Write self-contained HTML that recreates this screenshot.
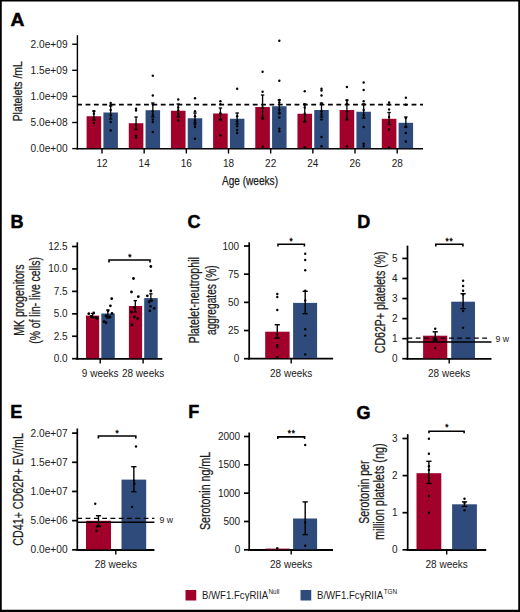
<!DOCTYPE html>
<html><head><meta charset="utf-8"><style>
html,body{margin:0;padding:0;background:#fff;width:520px;height:612px;overflow:hidden;}
svg{display:block;font-family:"Liberation Sans",sans-serif;}
</style></head><body>
<svg width="520" height="612" viewBox="0 0 520 612" font-family="Liberation Sans, sans-serif">
<rect x="0" y="0" width="520" height="612" fill="#fff"/>
<text x="10.4" y="26" font-size="18" text-anchor="start" font-weight="bold" fill="#000" textLength="13.9" lengthAdjust="spacingAndGlyphs" stroke="#000" stroke-width="0.5">A</text>
<line x1="77.4" y1="35.2" x2="77.4" y2="149.5" stroke="#000" stroke-width="1.4" />
<line x1="72.2" y1="148.6" x2="77.4" y2="148.6" stroke="#000" stroke-width="1.4" />
<text x="67.6" y="152.15" font-size="10" text-anchor="end" font-weight="normal" fill="#1a1a1a" textLength="37" lengthAdjust="spacingAndGlyphs" >0.0e+00</text>
<line x1="72.2" y1="122.5" x2="77.4" y2="122.5" stroke="#000" stroke-width="1.4" />
<text x="67.6" y="126.05" font-size="10" text-anchor="end" font-weight="normal" fill="#1a1a1a" textLength="37" lengthAdjust="spacingAndGlyphs" >5.0e+08</text>
<line x1="72.2" y1="96.39999999999999" x2="77.4" y2="96.39999999999999" stroke="#000" stroke-width="1.4" />
<text x="67.6" y="99.94999999999999" font-size="10" text-anchor="end" font-weight="normal" fill="#1a1a1a" textLength="37" lengthAdjust="spacingAndGlyphs" >1.0e+09</text>
<line x1="72.2" y1="70.29999999999998" x2="77.4" y2="70.29999999999998" stroke="#000" stroke-width="1.4" />
<text x="67.6" y="73.84999999999998" font-size="10" text-anchor="end" font-weight="normal" fill="#1a1a1a" textLength="37" lengthAdjust="spacingAndGlyphs" >1.5e+09</text>
<line x1="72.2" y1="44.19999999999999" x2="77.4" y2="44.19999999999999" stroke="#000" stroke-width="1.4" />
<text x="67.6" y="47.749999999999986" font-size="10" text-anchor="end" font-weight="normal" fill="#1a1a1a" textLength="37" lengthAdjust="spacingAndGlyphs" >2.0e+09</text>
<line x1="76.7" y1="148.8" x2="423" y2="148.8" stroke="#000" stroke-width="1.4" />
<rect x="86.6" y="116.25" width="14.6" height="31.95" fill="#A1002B"/>
<rect x="103.4" y="112.5" width="14.5" height="35.7" fill="#2E4B7B"/>
<rect x="128.77" y="123.2" width="14.6" height="25.0" fill="#A1002B"/>
<rect x="145.57000000000002" y="110.2" width="14.5" height="38.0" fill="#2E4B7B"/>
<rect x="170.94" y="110.75" width="14.6" height="37.45" fill="#A1002B"/>
<rect x="187.74" y="118.25" width="14.5" height="29.95" fill="#2E4B7B"/>
<rect x="213.10999999999999" y="113.5" width="14.6" height="34.7" fill="#A1002B"/>
<rect x="229.91" y="118.75" width="14.5" height="29.45" fill="#2E4B7B"/>
<rect x="255.28" y="107" width="14.6" height="41.2" fill="#A1002B"/>
<rect x="272.08" y="106.25" width="14.5" height="41.95" fill="#2E4B7B"/>
<rect x="297.45000000000005" y="113.75" width="14.6" height="34.45" fill="#A1002B"/>
<rect x="314.25" y="110" width="14.5" height="38.2" fill="#2E4B7B"/>
<rect x="339.62" y="110" width="14.6" height="38.2" fill="#A1002B"/>
<rect x="356.41999999999996" y="111.75" width="14.5" height="36.45" fill="#2E4B7B"/>
<rect x="381.79" y="118.8" width="14.6" height="29.4" fill="#A1002B"/>
<rect x="398.59" y="122.8" width="14.5" height="25.4" fill="#2E4B7B"/>
<circle cx="93.9" cy="111.25" r="1.2" fill="#000"/>
<circle cx="93.9" cy="113.75" r="1.2" fill="#000"/>
<circle cx="93.9" cy="117.5" r="1.2" fill="#000"/>
<circle cx="93.9" cy="123" r="1.2" fill="#000"/>
<circle cx="110.65" cy="103" r="1.2" fill="#000"/>
<circle cx="110.65" cy="105" r="1.2" fill="#000"/>
<circle cx="110.65" cy="110" r="1.2" fill="#000"/>
<circle cx="110.65" cy="115" r="1.2" fill="#000"/>
<circle cx="110.65" cy="122" r="1.2" fill="#000"/>
<circle cx="110.65" cy="130.5" r="1.2" fill="#000"/>
<line x1="93.9" y1="111" x2="93.9" y2="120" stroke="#000" stroke-width="1.3" />
<line x1="92.2" y1="111" x2="95.60000000000001" y2="111" stroke="#000" stroke-width="1.3" />
<line x1="92.2" y1="120" x2="95.60000000000001" y2="120" stroke="#000" stroke-width="1.3" />
<line x1="110.65" y1="106" x2="110.65" y2="119" stroke="#000" stroke-width="1.3" />
<line x1="108.95" y1="106" x2="112.35000000000001" y2="106" stroke="#000" stroke-width="1.3" />
<line x1="108.95" y1="119" x2="112.35000000000001" y2="119" stroke="#000" stroke-width="1.3" />
<line x1="102.0" y1="148.8" x2="102.0" y2="153.5" stroke="#000" stroke-width="1.4" />
<text x="102.0" y="166.8" font-size="10" text-anchor="middle" font-weight="normal" fill="#1a1a1a" >12</text>
<circle cx="136.07000000000002" cy="108.75" r="1.2" fill="#000"/>
<circle cx="136.07000000000002" cy="110.5" r="1.2" fill="#000"/>
<circle cx="136.07000000000002" cy="125" r="1.2" fill="#000"/>
<circle cx="136.07000000000002" cy="135.75" r="1.2" fill="#000"/>
<circle cx="136.07000000000002" cy="137.5" r="1.2" fill="#000"/>
<circle cx="152.82000000000002" cy="75.75" r="1.2" fill="#000"/>
<circle cx="152.82000000000002" cy="95.5" r="1.2" fill="#000"/>
<circle cx="152.82000000000002" cy="104.5" r="1.2" fill="#000"/>
<circle cx="152.82000000000002" cy="111.25" r="1.2" fill="#000"/>
<circle cx="152.82000000000002" cy="115" r="1.2" fill="#000"/>
<circle cx="152.82000000000002" cy="119.5" r="1.2" fill="#000"/>
<circle cx="152.82000000000002" cy="122" r="1.2" fill="#000"/>
<circle cx="152.82000000000002" cy="132" r="1.2" fill="#000"/>
<line x1="136.07000000000002" y1="117" x2="136.07000000000002" y2="129.5" stroke="#000" stroke-width="1.3" />
<line x1="134.37000000000003" y1="117" x2="137.77" y2="117" stroke="#000" stroke-width="1.3" />
<line x1="134.37000000000003" y1="129.5" x2="137.77" y2="129.5" stroke="#000" stroke-width="1.3" />
<line x1="152.82000000000002" y1="103" x2="152.82000000000002" y2="117" stroke="#000" stroke-width="1.3" />
<line x1="151.12000000000003" y1="103" x2="154.52" y2="103" stroke="#000" stroke-width="1.3" />
<line x1="151.12000000000003" y1="117" x2="154.52" y2="117" stroke="#000" stroke-width="1.3" />
<line x1="144.17000000000002" y1="148.8" x2="144.17000000000002" y2="153.5" stroke="#000" stroke-width="1.4" />
<text x="144.17000000000002" y="166.8" font-size="10" text-anchor="middle" font-weight="normal" fill="#1a1a1a" >14</text>
<circle cx="178.24" cy="99.5" r="1.2" fill="#000"/>
<circle cx="178.24" cy="107.5" r="1.2" fill="#000"/>
<circle cx="178.24" cy="110.5" r="1.2" fill="#000"/>
<circle cx="178.24" cy="113.75" r="1.2" fill="#000"/>
<circle cx="178.24" cy="115" r="1.2" fill="#000"/>
<circle cx="178.24" cy="120.5" r="1.2" fill="#000"/>
<circle cx="194.99" cy="98.25" r="1.2" fill="#000"/>
<circle cx="194.99" cy="111.25" r="1.2" fill="#000"/>
<circle cx="194.99" cy="116.25" r="1.2" fill="#000"/>
<circle cx="194.99" cy="120.5" r="1.2" fill="#000"/>
<circle cx="194.99" cy="124.5" r="1.2" fill="#000"/>
<circle cx="194.99" cy="127" r="1.2" fill="#000"/>
<circle cx="194.99" cy="138.75" r="1.2" fill="#000"/>
<line x1="178.24" y1="104" x2="178.24" y2="117" stroke="#000" stroke-width="1.3" />
<line x1="176.54000000000002" y1="104" x2="179.94" y2="104" stroke="#000" stroke-width="1.3" />
<line x1="176.54000000000002" y1="117" x2="179.94" y2="117" stroke="#000" stroke-width="1.3" />
<line x1="194.99" y1="113" x2="194.99" y2="123" stroke="#000" stroke-width="1.3" />
<line x1="193.29000000000002" y1="113" x2="196.69" y2="113" stroke="#000" stroke-width="1.3" />
<line x1="193.29000000000002" y1="123" x2="196.69" y2="123" stroke="#000" stroke-width="1.3" />
<line x1="186.34" y1="148.8" x2="186.34" y2="153.5" stroke="#000" stroke-width="1.4" />
<text x="186.34" y="166.8" font-size="10" text-anchor="middle" font-weight="normal" fill="#1a1a1a" >16</text>
<circle cx="220.41" cy="101.25" r="1.2" fill="#000"/>
<circle cx="220.41" cy="104.25" r="1.2" fill="#000"/>
<circle cx="220.41" cy="113.25" r="1.2" fill="#000"/>
<circle cx="220.41" cy="119.5" r="1.2" fill="#000"/>
<circle cx="220.41" cy="135.5" r="1.2" fill="#000"/>
<circle cx="237.16" cy="88.75" r="1.2" fill="#000"/>
<circle cx="237.16" cy="116.25" r="1.2" fill="#000"/>
<circle cx="237.16" cy="121.25" r="1.2" fill="#000"/>
<circle cx="237.16" cy="126.25" r="1.2" fill="#000"/>
<circle cx="237.16" cy="130" r="1.2" fill="#000"/>
<circle cx="237.16" cy="133" r="1.2" fill="#000"/>
<line x1="220.41" y1="108" x2="220.41" y2="120" stroke="#000" stroke-width="1.3" />
<line x1="218.71" y1="108" x2="222.10999999999999" y2="108" stroke="#000" stroke-width="1.3" />
<line x1="218.71" y1="120" x2="222.10999999999999" y2="120" stroke="#000" stroke-width="1.3" />
<line x1="237.16" y1="113" x2="237.16" y2="124" stroke="#000" stroke-width="1.3" />
<line x1="235.46" y1="113" x2="238.85999999999999" y2="113" stroke="#000" stroke-width="1.3" />
<line x1="235.46" y1="124" x2="238.85999999999999" y2="124" stroke="#000" stroke-width="1.3" />
<line x1="228.51" y1="148.8" x2="228.51" y2="153.5" stroke="#000" stroke-width="1.4" />
<text x="228.51" y="166.8" font-size="10" text-anchor="middle" font-weight="normal" fill="#1a1a1a" >18</text>
<circle cx="262.58" cy="71.75" r="1.2" fill="#000"/>
<circle cx="262.58" cy="91.75" r="1.2" fill="#000"/>
<circle cx="262.58" cy="107.5" r="1.2" fill="#000"/>
<circle cx="262.58" cy="118.75" r="1.2" fill="#000"/>
<circle cx="262.58" cy="146.75" r="1.2" fill="#000"/>
<circle cx="279.33" cy="40.75" r="1.2" fill="#000"/>
<circle cx="279.33" cy="80.75" r="1.2" fill="#000"/>
<circle cx="279.33" cy="100" r="1.2" fill="#000"/>
<circle cx="279.33" cy="102.5" r="1.2" fill="#000"/>
<circle cx="279.33" cy="110" r="1.2" fill="#000"/>
<circle cx="279.33" cy="113.75" r="1.2" fill="#000"/>
<circle cx="279.33" cy="117.5" r="1.2" fill="#000"/>
<circle cx="279.33" cy="128.75" r="1.2" fill="#000"/>
<circle cx="279.33" cy="131.25" r="1.2" fill="#000"/>
<line x1="262.58" y1="95" x2="262.58" y2="118" stroke="#000" stroke-width="1.3" />
<line x1="260.88" y1="95" x2="264.28" y2="95" stroke="#000" stroke-width="1.3" />
<line x1="260.88" y1="118" x2="264.28" y2="118" stroke="#000" stroke-width="1.3" />
<line x1="279.33" y1="100" x2="279.33" y2="113" stroke="#000" stroke-width="1.3" />
<line x1="277.63" y1="100" x2="281.03" y2="100" stroke="#000" stroke-width="1.3" />
<line x1="277.63" y1="113" x2="281.03" y2="113" stroke="#000" stroke-width="1.3" />
<line x1="270.68" y1="148.8" x2="270.68" y2="153.5" stroke="#000" stroke-width="1.4" />
<text x="270.68" y="166.8" font-size="10" text-anchor="middle" font-weight="normal" fill="#1a1a1a" >22</text>
<circle cx="304.75" cy="91.25" r="1.2" fill="#000"/>
<circle cx="304.75" cy="104.5" r="1.2" fill="#000"/>
<circle cx="304.75" cy="107.5" r="1.2" fill="#000"/>
<circle cx="304.75" cy="113.75" r="1.2" fill="#000"/>
<circle cx="304.75" cy="121.25" r="1.2" fill="#000"/>
<circle cx="304.75" cy="147.5" r="1.2" fill="#000"/>
<circle cx="321.5" cy="88.75" r="1.2" fill="#000"/>
<circle cx="321.5" cy="90.5" r="1.2" fill="#000"/>
<circle cx="321.5" cy="95.5" r="1.2" fill="#000"/>
<circle cx="321.5" cy="103.75" r="1.2" fill="#000"/>
<circle cx="321.5" cy="111.25" r="1.2" fill="#000"/>
<circle cx="321.5" cy="114.5" r="1.2" fill="#000"/>
<circle cx="321.5" cy="119.5" r="1.2" fill="#000"/>
<circle cx="321.5" cy="137" r="1.2" fill="#000"/>
<circle cx="321.5" cy="146.25" r="1.2" fill="#000"/>
<line x1="304.75" y1="104" x2="304.75" y2="122" stroke="#000" stroke-width="1.3" />
<line x1="303.05" y1="104" x2="306.45" y2="104" stroke="#000" stroke-width="1.3" />
<line x1="303.05" y1="122" x2="306.45" y2="122" stroke="#000" stroke-width="1.3" />
<line x1="321.5" y1="103" x2="321.5" y2="117" stroke="#000" stroke-width="1.3" />
<line x1="319.8" y1="103" x2="323.2" y2="103" stroke="#000" stroke-width="1.3" />
<line x1="319.8" y1="117" x2="323.2" y2="117" stroke="#000" stroke-width="1.3" />
<line x1="312.85" y1="148.8" x2="312.85" y2="153.5" stroke="#000" stroke-width="1.4" />
<text x="312.85" y="166.8" font-size="10" text-anchor="middle" font-weight="normal" fill="#1a1a1a" >24</text>
<circle cx="346.91999999999996" cy="87" r="1.2" fill="#000"/>
<circle cx="346.91999999999996" cy="100.5" r="1.2" fill="#000"/>
<circle cx="346.91999999999996" cy="103.75" r="1.2" fill="#000"/>
<circle cx="346.91999999999996" cy="111.25" r="1.2" fill="#000"/>
<circle cx="346.91999999999996" cy="118.75" r="1.2" fill="#000"/>
<circle cx="346.91999999999996" cy="146.25" r="1.2" fill="#000"/>
<circle cx="363.66999999999996" cy="82.5" r="1.2" fill="#000"/>
<circle cx="363.66999999999996" cy="90" r="1.2" fill="#000"/>
<circle cx="363.66999999999996" cy="101.25" r="1.2" fill="#000"/>
<circle cx="363.66999999999996" cy="104.5" r="1.2" fill="#000"/>
<circle cx="363.66999999999996" cy="110" r="1.2" fill="#000"/>
<circle cx="363.66999999999996" cy="115" r="1.2" fill="#000"/>
<circle cx="363.66999999999996" cy="127" r="1.2" fill="#000"/>
<circle cx="363.66999999999996" cy="143.75" r="1.2" fill="#000"/>
<circle cx="363.66999999999996" cy="146.25" r="1.2" fill="#000"/>
<line x1="346.91999999999996" y1="100" x2="346.91999999999996" y2="120" stroke="#000" stroke-width="1.3" />
<line x1="345.21999999999997" y1="100" x2="348.61999999999995" y2="100" stroke="#000" stroke-width="1.3" />
<line x1="345.21999999999997" y1="120" x2="348.61999999999995" y2="120" stroke="#000" stroke-width="1.3" />
<line x1="363.66999999999996" y1="104" x2="363.66999999999996" y2="118" stroke="#000" stroke-width="1.3" />
<line x1="361.96999999999997" y1="104" x2="365.36999999999995" y2="104" stroke="#000" stroke-width="1.3" />
<line x1="361.96999999999997" y1="118" x2="365.36999999999995" y2="118" stroke="#000" stroke-width="1.3" />
<line x1="355.02" y1="148.8" x2="355.02" y2="153.5" stroke="#000" stroke-width="1.4" />
<text x="355.02" y="166.8" font-size="10" text-anchor="middle" font-weight="normal" fill="#1a1a1a" >26</text>
<circle cx="389.09" cy="102.5" r="1.2" fill="#000"/>
<circle cx="389.09" cy="104.5" r="1.2" fill="#000"/>
<circle cx="389.09" cy="109.5" r="1.2" fill="#000"/>
<circle cx="389.09" cy="117" r="1.2" fill="#000"/>
<circle cx="389.09" cy="129.5" r="1.2" fill="#000"/>
<circle cx="389.09" cy="147.5" r="1.2" fill="#000"/>
<circle cx="405.84" cy="97.8" r="1.2" fill="#000"/>
<circle cx="405.84" cy="104.8" r="1.2" fill="#000"/>
<circle cx="405.84" cy="118" r="1.2" fill="#000"/>
<circle cx="405.84" cy="127" r="1.2" fill="#000"/>
<circle cx="405.84" cy="133" r="1.2" fill="#000"/>
<circle cx="405.84" cy="141.5" r="1.2" fill="#000"/>
<line x1="389.09" y1="112.5" x2="389.09" y2="124.5" stroke="#000" stroke-width="1.3" />
<line x1="387.39" y1="112.5" x2="390.78999999999996" y2="112.5" stroke="#000" stroke-width="1.3" />
<line x1="387.39" y1="124.5" x2="390.78999999999996" y2="124.5" stroke="#000" stroke-width="1.3" />
<line x1="405.84" y1="117" x2="405.84" y2="127" stroke="#000" stroke-width="1.3" />
<line x1="404.14" y1="117" x2="407.53999999999996" y2="117" stroke="#000" stroke-width="1.3" />
<line x1="404.14" y1="127" x2="407.53999999999996" y2="127" stroke="#000" stroke-width="1.3" />
<line x1="397.19" y1="148.8" x2="397.19" y2="153.5" stroke="#000" stroke-width="1.4" />
<text x="397.19" y="166.8" font-size="10" text-anchor="middle" font-weight="normal" fill="#1a1a1a" >28</text>
<line x1="77.2" y1="104.6" x2="423" y2="104.6" stroke="#000" stroke-width="1.6" stroke-dasharray="4.8 3.56"/>
<text x="222" y="185.2" font-size="13.2" text-anchor="start" font-weight="normal" fill="#1a1a1a" textLength="56" lengthAdjust="spacingAndGlyphs" stroke="#1a1a1a" stroke-width="0.25">Age (weeks)</text>
<text transform="translate(21.9,121.3) rotate(-90)" font-size="13.4" text-anchor="start" font-weight="normal" fill="#1a1a1a" textLength="60" lengthAdjust="spacingAndGlyphs" stroke="#1a1a1a" stroke-width="0.25">Platelets /mL</text>
<text x="10.4" y="227.7" font-size="18" text-anchor="start" font-weight="bold" fill="#000" stroke="#000" stroke-width="0.5">B</text>
<line x1="77.3" y1="242.3" x2="77.3" y2="359.65000000000003" stroke="#000" stroke-width="1.7" />
<line x1="72.1" y1="358.7" x2="77.3" y2="358.7" stroke="#000" stroke-width="1.7" />
<text x="67.7" y="362.25" font-size="10" text-anchor="end" font-weight="normal" fill="#1a1a1a" >0.0</text>
<line x1="72.1" y1="336.26" x2="77.3" y2="336.26" stroke="#000" stroke-width="1.7" />
<text x="67.7" y="339.81" font-size="10" text-anchor="end" font-weight="normal" fill="#1a1a1a" >2.5</text>
<line x1="72.1" y1="313.82" x2="77.3" y2="313.82" stroke="#000" stroke-width="1.7" />
<text x="67.7" y="317.37" font-size="10" text-anchor="end" font-weight="normal" fill="#1a1a1a" >5.0</text>
<line x1="72.1" y1="291.38" x2="77.3" y2="291.38" stroke="#000" stroke-width="1.7" />
<text x="67.7" y="294.93" font-size="10" text-anchor="end" font-weight="normal" fill="#1a1a1a" >7.5</text>
<line x1="72.1" y1="268.94" x2="77.3" y2="268.94" stroke="#000" stroke-width="1.7" />
<text x="67.7" y="272.49" font-size="10" text-anchor="end" font-weight="normal" fill="#1a1a1a" >10.0</text>
<line x1="72.1" y1="246.49999999999997" x2="77.3" y2="246.49999999999997" stroke="#000" stroke-width="1.7" />
<text x="67.7" y="250.04999999999998" font-size="10" text-anchor="end" font-weight="normal" fill="#1a1a1a" >12.5</text>
<line x1="76.45" y1="358.8" x2="162.3" y2="358.8" stroke="#000" stroke-width="1.8" />
<rect x="86.0" y="315.6" width="13.2" height="42.6" fill="#A1002B"/>
<rect x="101.3" y="313.5" width="13.5" height="44.7" fill="#2E4B7B"/>
<line x1="100.2" y1="358.8" x2="100.2" y2="363.6" stroke="#000" stroke-width="1.4" />
<text x="100.2" y="377.1" font-size="10" text-anchor="middle" font-weight="normal" fill="#1a1a1a" >9 weeks</text>
<rect x="128.9" y="306" width="13.2" height="52.2" fill="#A1002B"/>
<rect x="144.2" y="298.1" width="13.5" height="60.1" fill="#2E4B7B"/>
<line x1="143.1" y1="358.8" x2="143.1" y2="363.6" stroke="#000" stroke-width="1.4" />
<text x="143.1" y="377.1" font-size="10" text-anchor="middle" font-weight="normal" fill="#1a1a1a" >28 weeks</text>
<circle cx="88.8" cy="313.7" r="1.4" fill="#000"/>
<circle cx="93.7" cy="313" r="1.4" fill="#000"/>
<circle cx="91.2" cy="316.5" r="1.4" fill="#000"/>
<circle cx="96" cy="317.5" r="1.4" fill="#000"/>
<circle cx="97" cy="318.3" r="1.4" fill="#000"/>
<circle cx="111.7" cy="298.7" r="1.4" fill="#000"/>
<circle cx="110.4" cy="305.8" r="1.4" fill="#000"/>
<circle cx="108" cy="310.8" r="1.4" fill="#000"/>
<circle cx="112" cy="313.5" r="1.4" fill="#000"/>
<circle cx="106" cy="316" r="1.4" fill="#000"/>
<circle cx="110" cy="317" r="1.4" fill="#000"/>
<circle cx="104" cy="321.7" r="1.4" fill="#000"/>
<circle cx="106" cy="322.7" r="1.4" fill="#000"/>
<circle cx="133.5" cy="278.5" r="1.4" fill="#000"/>
<circle cx="131.5" cy="292" r="1.4" fill="#000"/>
<circle cx="138.3" cy="296.7" r="1.4" fill="#000"/>
<circle cx="134.4" cy="307.3" r="1.4" fill="#000"/>
<circle cx="131.5" cy="312" r="1.4" fill="#000"/>
<circle cx="134.4" cy="317" r="1.4" fill="#000"/>
<circle cx="137.7" cy="318.5" r="1.4" fill="#000"/>
<circle cx="131.9" cy="325" r="1.4" fill="#000"/>
<circle cx="150.8" cy="266.5" r="1.4" fill="#000"/>
<circle cx="150.8" cy="291" r="1.4" fill="#000"/>
<circle cx="147.3" cy="295.8" r="1.4" fill="#000"/>
<circle cx="151.7" cy="300.6" r="1.4" fill="#000"/>
<circle cx="149.2" cy="302" r="1.4" fill="#000"/>
<circle cx="150.4" cy="306.3" r="1.4" fill="#000"/>
<circle cx="154.2" cy="308.3" r="1.4" fill="#000"/>
<circle cx="149.8" cy="310.8" r="1.4" fill="#000"/>
<line x1="92.6" y1="313.5" x2="92.6" y2="317.5" stroke="#000" stroke-width="1.3" />
<line x1="90.89999999999999" y1="313.5" x2="94.3" y2="313.5" stroke="#000" stroke-width="1.3" />
<line x1="90.89999999999999" y1="317.5" x2="94.3" y2="317.5" stroke="#000" stroke-width="1.3" />
<line x1="107.85" y1="310" x2="107.85" y2="318" stroke="#000" stroke-width="1.3" />
<line x1="106.14999999999999" y1="310" x2="109.55" y2="310" stroke="#000" stroke-width="1.3" />
<line x1="106.14999999999999" y1="318" x2="109.55" y2="318" stroke="#000" stroke-width="1.3" />
<line x1="135.3" y1="300.6" x2="135.3" y2="312" stroke="#000" stroke-width="1.3" />
<line x1="133.60000000000002" y1="300.6" x2="137.0" y2="300.6" stroke="#000" stroke-width="1.3" />
<line x1="133.60000000000002" y1="312" x2="137.0" y2="312" stroke="#000" stroke-width="1.3" />
<line x1="150.85" y1="293.8" x2="150.85" y2="300.6" stroke="#000" stroke-width="1.3" />
<line x1="149.15" y1="293.8" x2="152.54999999999998" y2="293.8" stroke="#000" stroke-width="1.3" />
<line x1="149.15" y1="300.6" x2="152.54999999999998" y2="300.6" stroke="#000" stroke-width="1.3" />
<path d="M109.0,262.5 L109.0,260 L150.0,260 L150.0,262.5" fill="none" stroke="#000" stroke-width="1.6"/>
<text x="129.8" y="260.0" font-size="8.2" text-anchor="middle" font-weight="normal" fill="#000" stroke="#000" stroke-width="0.35">*</text>
<text transform="translate(24,335.8) rotate(-90)" font-size="14" text-anchor="start" font-weight="normal" fill="#1a1a1a" textLength="71.3" lengthAdjust="spacingAndGlyphs" stroke="#1a1a1a" stroke-width="0.25">MK progenitors</text>
<text transform="translate(40,343.8) rotate(-90)" font-size="14" text-anchor="start" font-weight="normal" fill="#1a1a1a" textLength="86.7" lengthAdjust="spacingAndGlyphs" stroke="#1a1a1a" stroke-width="0.25">(% of lin- live cells)</text>
<text x="187.6" y="228.3" font-size="18" text-anchor="start" font-weight="bold" fill="#000" stroke="#000" stroke-width="0.5">C</text>
<line x1="249.2" y1="242.3" x2="249.2" y2="359.55" stroke="#000" stroke-width="1.7" />
<line x1="244.0" y1="358.7" x2="249.2" y2="358.7" stroke="#000" stroke-width="1.7" />
<text x="239.2" y="362.25" font-size="10" text-anchor="end" font-weight="normal" fill="#1a1a1a" >0</text>
<line x1="244.0" y1="330.53" x2="249.2" y2="330.53" stroke="#000" stroke-width="1.7" />
<text x="239.2" y="334.08" font-size="10" text-anchor="end" font-weight="normal" fill="#1a1a1a" >25</text>
<line x1="244.0" y1="302.36" x2="249.2" y2="302.36" stroke="#000" stroke-width="1.7" />
<text x="239.2" y="305.91" font-size="10" text-anchor="end" font-weight="normal" fill="#1a1a1a" >50</text>
<line x1="244.0" y1="274.19" x2="249.2" y2="274.19" stroke="#000" stroke-width="1.7" />
<text x="239.2" y="277.74" font-size="10" text-anchor="end" font-weight="normal" fill="#1a1a1a" >75</text>
<line x1="244.0" y1="246.01999999999998" x2="249.2" y2="246.01999999999998" stroke="#000" stroke-width="1.7" />
<text x="239.2" y="249.57" font-size="10" text-anchor="end" font-weight="normal" fill="#1a1a1a" >100</text>
<line x1="248.35" y1="358.7" x2="333.1" y2="358.7" stroke="#000" stroke-width="1.8" />
<rect x="265.2" y="331.7" width="24.4" height="26.4" fill="#A1002B"/>
<rect x="293.1" y="302.9" width="24.0" height="55.2" fill="#2E4B7B"/>
<line x1="291.2" y1="358.7" x2="291.2" y2="363.5" stroke="#000" stroke-width="1.4" />
<text x="291.2" y="376.9" font-size="10" text-anchor="middle" font-weight="normal" fill="#1a1a1a" >28 weeks</text>
<circle cx="277.3" cy="294" r="1.2" fill="#000"/>
<circle cx="277.3" cy="297" r="1.2" fill="#000"/>
<circle cx="277.3" cy="310" r="1.2" fill="#000"/>
<circle cx="277.3" cy="345.2" r="1.2" fill="#000"/>
<circle cx="277.3" cy="347.1" r="1.2" fill="#000"/>
<circle cx="277.3" cy="357.3" r="1.2" fill="#000"/>
<circle cx="305.2" cy="253.8" r="1.2" fill="#000"/>
<circle cx="305.2" cy="260" r="1.2" fill="#000"/>
<circle cx="305.2" cy="270.2" r="1.2" fill="#000"/>
<circle cx="305.2" cy="290.8" r="1.2" fill="#000"/>
<circle cx="305.2" cy="300.4" r="1.2" fill="#000"/>
<circle cx="305.2" cy="329.2" r="1.2" fill="#000"/>
<circle cx="305.2" cy="335.6" r="1.2" fill="#000"/>
<circle cx="305.2" cy="354.4" r="1.2" fill="#000"/>
<line x1="277.3" y1="324.7" x2="277.3" y2="338.1" stroke="#000" stroke-width="1.4" />
<line x1="274.7" y1="324.7" x2="279.90000000000003" y2="324.7" stroke="#000" stroke-width="1.4" />
<line x1="274.7" y1="338.1" x2="279.90000000000003" y2="338.1" stroke="#000" stroke-width="1.4" />
<line x1="305.2" y1="291.3" x2="305.2" y2="313.7" stroke="#000" stroke-width="1.4" />
<line x1="302.59999999999997" y1="291.3" x2="307.8" y2="291.3" stroke="#000" stroke-width="1.4" />
<line x1="302.59999999999997" y1="313.7" x2="307.8" y2="313.7" stroke="#000" stroke-width="1.4" />
<path d="M278.0,246.5 L278.0,244.2 L304.4,244.2 L304.4,246.5" fill="none" stroke="#000" stroke-width="1.6"/>
<text x="291.2" y="243.9" font-size="8.2" text-anchor="middle" font-weight="normal" fill="#000" stroke="#000" stroke-width="0.35">*</text>
<text transform="translate(198.9,343.5) rotate(-90)" font-size="14" text-anchor="start" font-weight="normal" fill="#1a1a1a" textLength="86.4" lengthAdjust="spacingAndGlyphs" stroke="#1a1a1a" stroke-width="0.25">Platelet-neutrophil</text>
<text transform="translate(215.6,335) rotate(-90)" font-size="14" text-anchor="start" font-weight="normal" fill="#1a1a1a" textLength="69.6" lengthAdjust="spacingAndGlyphs" stroke="#1a1a1a" stroke-width="0.25">aggregates (%)</text>
<text x="357.2" y="228.3" font-size="18" text-anchor="start" font-weight="bold" fill="#000" stroke="#000" stroke-width="0.5">D</text>
<line x1="407.5" y1="245.6" x2="407.5" y2="359.65000000000003" stroke="#000" stroke-width="1.7" />
<line x1="402.3" y1="358.7" x2="407.5" y2="358.7" stroke="#000" stroke-width="1.7" />
<text x="397.5" y="362.25" font-size="10" text-anchor="end" font-weight="normal" fill="#1a1a1a" >0</text>
<line x1="402.3" y1="338.65" x2="407.5" y2="338.65" stroke="#000" stroke-width="1.7" />
<text x="397.5" y="342.2" font-size="10" text-anchor="end" font-weight="normal" fill="#1a1a1a" >1</text>
<line x1="402.3" y1="318.59999999999997" x2="407.5" y2="318.59999999999997" stroke="#000" stroke-width="1.7" />
<text x="397.5" y="322.15" font-size="10" text-anchor="end" font-weight="normal" fill="#1a1a1a" >2</text>
<line x1="402.3" y1="298.54999999999995" x2="407.5" y2="298.54999999999995" stroke="#000" stroke-width="1.7" />
<text x="397.5" y="302.09999999999997" font-size="10" text-anchor="end" font-weight="normal" fill="#1a1a1a" >3</text>
<line x1="402.3" y1="278.5" x2="407.5" y2="278.5" stroke="#000" stroke-width="1.7" />
<text x="397.5" y="282.05" font-size="10" text-anchor="end" font-weight="normal" fill="#1a1a1a" >4</text>
<line x1="402.3" y1="258.45" x2="407.5" y2="258.45" stroke="#000" stroke-width="1.7" />
<text x="397.5" y="262.0" font-size="10" text-anchor="end" font-weight="normal" fill="#1a1a1a" >5</text>
<line x1="406.65" y1="358.9" x2="491.5" y2="358.9" stroke="#000" stroke-width="1.8" />
<rect x="423.1" y="335.7" width="24.2" height="22.6" fill="#A1002B"/>
<rect x="451.2" y="301.7" width="23.8" height="56.6" fill="#2E4B7B"/>
<line x1="449.2" y1="358.9" x2="449.2" y2="363.5" stroke="#000" stroke-width="1.4" />
<text x="449.2" y="376.5" font-size="10" text-anchor="middle" font-weight="normal" fill="#1a1a1a" >28 weeks</text>
<circle cx="435.2" cy="328.8" r="1.2" fill="#000"/>
<circle cx="435.2" cy="338.8" r="1.2" fill="#000"/>
<circle cx="435.2" cy="348.1" r="1.2" fill="#000"/>
<circle cx="463.1" cy="280.8" r="1.2" fill="#000"/>
<circle cx="463.1" cy="286" r="1.2" fill="#000"/>
<circle cx="463.1" cy="290.8" r="1.2" fill="#000"/>
<circle cx="463.1" cy="294.6" r="1.2" fill="#000"/>
<circle cx="463.1" cy="311" r="1.2" fill="#000"/>
<circle cx="463.1" cy="327.7" r="1.2" fill="#000"/>
<line x1="435.2" y1="331.8" x2="435.2" y2="340.2" stroke="#000" stroke-width="1.4" />
<line x1="432.59999999999997" y1="331.8" x2="437.8" y2="331.8" stroke="#000" stroke-width="1.4" />
<line x1="432.59999999999997" y1="340.2" x2="437.8" y2="340.2" stroke="#000" stroke-width="1.4" />
<line x1="463.1" y1="293.7" x2="463.1" y2="308.7" stroke="#000" stroke-width="1.4" />
<line x1="460.5" y1="293.7" x2="465.70000000000005" y2="293.7" stroke="#000" stroke-width="1.4" />
<line x1="460.5" y1="308.7" x2="465.70000000000005" y2="308.7" stroke="#000" stroke-width="1.4" />
<line x1="407.5" y1="338.1" x2="489" y2="338.1" stroke="#000" stroke-width="1.4" stroke-dasharray="4.8 3.5"/>
<line x1="407.5" y1="341.9" x2="491.5" y2="341.9" stroke="#000" stroke-width="1.5" />
<text x="495.5" y="342.2" font-size="8.5" text-anchor="start" font-weight="normal" fill="#1a1a1a" textLength="13.6" lengthAdjust="spacingAndGlyphs" >9 w</text>
<path d="M435.8,246.5 L435.8,244.2 L462.9,244.2 L462.9,246.5" fill="none" stroke="#000" stroke-width="1.6"/>
<text x="447.15" y="243.9" font-size="8.2" text-anchor="middle" font-weight="normal" fill="#000" stroke="#000" stroke-width="0.35">*</text>
<text x="451.15" y="243.9" font-size="8.2" text-anchor="middle" font-weight="normal" fill="#000" stroke="#000" stroke-width="0.35">*</text>
<text transform="translate(384.5,353.2) rotate(-90)" font-size="14.8" text-anchor="start" font-weight="normal" fill="#1a1a1a" textLength="101.8" lengthAdjust="spacingAndGlyphs" stroke="#1a1a1a" stroke-width="0.25">CD62P+ platelets (%)</text>
<text x="10.2" y="418.3" font-size="18" text-anchor="start" font-weight="bold" fill="#000" stroke="#000" stroke-width="0.5">E</text>
<line x1="77.3" y1="428.5" x2="77.3" y2="550.85" stroke="#000" stroke-width="1.7" />
<line x1="72.1" y1="549.8" x2="77.3" y2="549.8" stroke="#000" stroke-width="1.7" />
<text x="67.6" y="553.3499999999999" font-size="10" text-anchor="end" font-weight="normal" fill="#1a1a1a" textLength="37" lengthAdjust="spacingAndGlyphs" >0.0e+00</text>
<line x1="72.1" y1="520.63" x2="77.3" y2="520.63" stroke="#000" stroke-width="1.7" />
<text x="67.6" y="524.18" font-size="10" text-anchor="end" font-weight="normal" fill="#1a1a1a" textLength="37" lengthAdjust="spacingAndGlyphs" >5.0e+06</text>
<line x1="72.1" y1="491.46" x2="77.3" y2="491.46" stroke="#000" stroke-width="1.7" />
<text x="67.6" y="495.01" font-size="10" text-anchor="end" font-weight="normal" fill="#1a1a1a" textLength="37" lengthAdjust="spacingAndGlyphs" >1.0e+07</text>
<line x1="72.1" y1="462.28999999999996" x2="77.3" y2="462.28999999999996" stroke="#000" stroke-width="1.7" />
<text x="67.6" y="465.84" font-size="10" text-anchor="end" font-weight="normal" fill="#1a1a1a" textLength="37" lengthAdjust="spacingAndGlyphs" >1.5e+07</text>
<line x1="72.1" y1="433.11999999999995" x2="77.3" y2="433.11999999999995" stroke="#000" stroke-width="1.7" />
<text x="67.6" y="436.66999999999996" font-size="10" text-anchor="end" font-weight="normal" fill="#1a1a1a" textLength="37" lengthAdjust="spacingAndGlyphs" >2.0e+07</text>
<line x1="76.45" y1="550" x2="154.4" y2="550" stroke="#000" stroke-width="1.8" />
<rect x="86" y="520.8" width="25" height="28.6" fill="#A1002B"/>
<rect x="121.5" y="479.6" width="24.7" height="69.8" fill="#2E4B7B"/>
<line x1="115.8" y1="550" x2="115.8" y2="554.4" stroke="#000" stroke-width="1.4" />
<text x="115.8" y="567.9" font-size="10" text-anchor="middle" font-weight="normal" fill="#1a1a1a" >28 weeks</text>
<circle cx="95.2" cy="503.8" r="1.2" fill="#000"/>
<circle cx="98.5" cy="525.6" r="1.2" fill="#000"/>
<circle cx="97" cy="526.5" r="1.2" fill="#000"/>
<circle cx="96.5" cy="530.8" r="1.2" fill="#000"/>
<circle cx="136" cy="446.5" r="1.2" fill="#000"/>
<circle cx="134" cy="480.6" r="1.2" fill="#000"/>
<circle cx="134.5" cy="483.8" r="1.2" fill="#000"/>
<circle cx="132.1" cy="506.9" r="1.2" fill="#000"/>
<line x1="98.5" y1="515.7" x2="98.5" y2="526.5" stroke="#000" stroke-width="1.4" />
<line x1="95.9" y1="515.7" x2="101.1" y2="515.7" stroke="#000" stroke-width="1.4" />
<line x1="95.9" y1="526.5" x2="101.1" y2="526.5" stroke="#000" stroke-width="1.4" />
<line x1="133.85" y1="466.7" x2="133.85" y2="491.7" stroke="#000" stroke-width="1.4" />
<line x1="131.25" y1="466.7" x2="136.45" y2="466.7" stroke="#000" stroke-width="1.4" />
<line x1="131.25" y1="491.7" x2="136.45" y2="491.7" stroke="#000" stroke-width="1.4" />
<line x1="77.3" y1="518.4" x2="154.4" y2="518.4" stroke="#000" stroke-width="1.4" stroke-dasharray="4.8 3.5"/>
<line x1="77.3" y1="522.3" x2="154.4" y2="522.3" stroke="#000" stroke-width="1.5" />
<text x="159.4" y="522.8" font-size="8.5" text-anchor="start" font-weight="normal" fill="#1a1a1a" textLength="13.6" lengthAdjust="spacingAndGlyphs" >9 w</text>
<path d="M98.39999999999999,438.6 L98.39999999999999,436 L135.79999999999998,436 L135.79999999999998,438.6" fill="none" stroke="#000" stroke-width="1.6"/>
<text x="117.0" y="435.7" font-size="8.2" text-anchor="middle" font-weight="normal" fill="#000" stroke="#000" stroke-width="0.35">*</text>
<text transform="translate(22.5,545.8) rotate(-90)" font-size="14" text-anchor="start" font-weight="normal" fill="#1a1a1a" textLength="112.7" lengthAdjust="spacingAndGlyphs" stroke="#1a1a1a" stroke-width="0.25">CD41+ CD62P+ EV/mL</text>
<text x="188.2" y="418.3" font-size="18" text-anchor="start" font-weight="bold" fill="#000" stroke="#000" stroke-width="0.5">F</text>
<line x1="249.2" y1="432.5" x2="249.2" y2="550.85" stroke="#000" stroke-width="1.7" />
<line x1="244.0" y1="549.8" x2="249.2" y2="549.8" stroke="#000" stroke-width="1.7" />
<text x="240.2" y="553.3499999999999" font-size="10" text-anchor="end" font-weight="normal" fill="#1a1a1a" >0</text>
<line x1="244.0" y1="521.4749999999999" x2="249.2" y2="521.4749999999999" stroke="#000" stroke-width="1.7" />
<text x="240.2" y="525.0249999999999" font-size="10" text-anchor="end" font-weight="normal" fill="#1a1a1a" >500</text>
<line x1="244.0" y1="493.15" x2="249.2" y2="493.15" stroke="#000" stroke-width="1.7" />
<text x="240.2" y="496.7" font-size="10" text-anchor="end" font-weight="normal" fill="#1a1a1a" >1000</text>
<line x1="244.0" y1="464.82499999999993" x2="249.2" y2="464.82499999999993" stroke="#000" stroke-width="1.7" />
<text x="240.2" y="468.37499999999994" font-size="10" text-anchor="end" font-weight="normal" fill="#1a1a1a" >1500</text>
<line x1="244.0" y1="436.49999999999994" x2="249.2" y2="436.49999999999994" stroke="#000" stroke-width="1.7" />
<text x="240.2" y="440.04999999999995" font-size="10" text-anchor="end" font-weight="normal" fill="#1a1a1a" >2000</text>
<line x1="248.35" y1="550" x2="333" y2="550" stroke="#000" stroke-width="1.8" />
<rect x="265.2" y="548.6" width="24.4" height="0.8" fill="#A1002B"/>
<rect x="293.1" y="518.5" width="24.0" height="30.9" fill="#2E4B7B"/>
<line x1="291.2" y1="550" x2="291.2" y2="554.4" stroke="#000" stroke-width="1.4" />
<text x="291.2" y="567.9" font-size="10" text-anchor="middle" font-weight="normal" fill="#1a1a1a" >28 weeks</text>
<circle cx="277.3" cy="548.2" r="1.3" fill="#000"/>
<circle cx="305.2" cy="445" r="1.2" fill="#000"/>
<circle cx="305.2" cy="522.3" r="1.2" fill="#000"/>
<circle cx="305.2" cy="545.8" r="1.2" fill="#000"/>
<line x1="305.2" y1="501.9" x2="305.2" y2="534.6" stroke="#000" stroke-width="1.4" />
<line x1="302.59999999999997" y1="501.9" x2="307.8" y2="501.9" stroke="#000" stroke-width="1.4" />
<line x1="302.59999999999997" y1="534.6" x2="307.8" y2="534.6" stroke="#000" stroke-width="1.4" />
<path d="M277.8,439.1 L277.8,436.9 L304.59999999999997,436.9 L304.59999999999997,439.1" fill="none" stroke="#000" stroke-width="1.6"/>
<text x="289.25" y="436.2" font-size="8.2" text-anchor="middle" font-weight="normal" fill="#000" stroke="#000" stroke-width="0.35">*</text>
<text x="293.25" y="436.2" font-size="8.2" text-anchor="middle" font-weight="normal" fill="#000" stroke="#000" stroke-width="0.35">*</text>
<text transform="translate(210.2,530) rotate(-90)" font-size="14.5" text-anchor="start" font-weight="normal" fill="#1a1a1a" textLength="78.1" lengthAdjust="spacingAndGlyphs" stroke="#1a1a1a" stroke-width="0.25">Serotonin ng/mL</text>
<text x="356.6" y="418.7" font-size="18" text-anchor="start" font-weight="bold" fill="#000" stroke="#000" stroke-width="0.5">G</text>
<line x1="407.7" y1="434.2" x2="407.7" y2="550.85" stroke="#000" stroke-width="1.7" />
<line x1="402.5" y1="549.8" x2="407.7" y2="549.8" stroke="#000" stroke-width="1.7" />
<text x="397.5" y="553.3499999999999" font-size="10" text-anchor="end" font-weight="normal" fill="#1a1a1a" >0</text>
<line x1="402.5" y1="512.6999999999999" x2="407.7" y2="512.6999999999999" stroke="#000" stroke-width="1.7" />
<text x="397.5" y="516.2499999999999" font-size="10" text-anchor="end" font-weight="normal" fill="#1a1a1a" >1</text>
<line x1="402.5" y1="475.59999999999997" x2="407.7" y2="475.59999999999997" stroke="#000" stroke-width="1.7" />
<text x="397.5" y="479.15" font-size="10" text-anchor="end" font-weight="normal" fill="#1a1a1a" >2</text>
<line x1="402.5" y1="438.49999999999994" x2="407.7" y2="438.49999999999994" stroke="#000" stroke-width="1.7" />
<text x="397.5" y="442.04999999999995" font-size="10" text-anchor="end" font-weight="normal" fill="#1a1a1a" >3</text>
<line x1="406.84999999999997" y1="550" x2="486.2" y2="550" stroke="#000" stroke-width="1.8" />
<rect x="416.5" y="473.2" width="24.8" height="76.2" fill="#A1002B"/>
<rect x="452.1" y="504.3" width="24.8" height="45.1" fill="#2E4B7B"/>
<line x1="446.7" y1="550" x2="446.7" y2="554.4" stroke="#000" stroke-width="1.4" />
<text x="446.7" y="567.9" font-size="10" text-anchor="middle" font-weight="normal" fill="#1a1a1a" >28 weeks</text>
<circle cx="428.9" cy="438.8" r="1.2" fill="#000"/>
<circle cx="428.9" cy="453.7" r="1.2" fill="#000"/>
<circle cx="428.9" cy="466.2" r="1.2" fill="#000"/>
<circle cx="428.9" cy="470" r="1.2" fill="#000"/>
<circle cx="428.9" cy="496" r="1.2" fill="#000"/>
<circle cx="428.9" cy="512.7" r="1.2" fill="#000"/>
<circle cx="464.5" cy="498.7" r="1.2" fill="#000"/>
<circle cx="464.5" cy="502.7" r="1.2" fill="#000"/>
<circle cx="464.5" cy="510.3" r="1.2" fill="#000"/>
<line x1="428.9" y1="461.3" x2="428.9" y2="483.5" stroke="#000" stroke-width="1.4" />
<line x1="426.29999999999995" y1="461.3" x2="431.5" y2="461.3" stroke="#000" stroke-width="1.4" />
<line x1="426.29999999999995" y1="483.5" x2="431.5" y2="483.5" stroke="#000" stroke-width="1.4" />
<line x1="464.5" y1="501.9" x2="464.5" y2="506.4" stroke="#000" stroke-width="1.4" />
<line x1="461.9" y1="501.9" x2="467.1" y2="501.9" stroke="#000" stroke-width="1.4" />
<line x1="461.9" y1="506.4" x2="467.1" y2="506.4" stroke="#000" stroke-width="1.4" />
<path d="M429.0,433.2 L429.0,431.3 L464.09999999999997,431.3 L464.09999999999997,433.2" fill="none" stroke="#000" stroke-width="1.6"/>
<text x="446.8" y="430.4" font-size="8.2" text-anchor="middle" font-weight="normal" fill="#000" stroke="#000" stroke-width="0.35">*</text>
<text transform="translate(368.7,523.8) rotate(-90)" font-size="14.5" text-anchor="start" font-weight="normal" fill="#1a1a1a" textLength="63.2" lengthAdjust="spacingAndGlyphs" stroke="#1a1a1a" stroke-width="0.25">Serotonin per</text>
<text transform="translate(384.1,540) rotate(-90)" font-size="14.5" text-anchor="start" font-weight="normal" fill="#1a1a1a" textLength="96.7" lengthAdjust="spacingAndGlyphs" stroke="#1a1a1a" stroke-width="0.25">million platelets (ng)</text>
<rect x="185.5" y="590" width="10.75" height="10.5" fill="#A1002B"/>
<rect x="300.5" y="590" width="10.75" height="10.5" fill="#2E4B7B"/>
<text x="202" y="598.6" font-size="11" text-anchor="start" font-weight="normal" fill="#1a1a1a" textLength="66.1" lengthAdjust="spacingAndGlyphs" >B/WF1.Fc&#947;RIIA</text>
<text x="268.5" y="593.6" font-size="7" text-anchor="start" font-weight="normal" fill="#1a1a1a" textLength="11" lengthAdjust="spacingAndGlyphs" >Null</text>
<text x="317" y="598.6" font-size="11" text-anchor="start" font-weight="normal" fill="#1a1a1a" textLength="66.1" lengthAdjust="spacingAndGlyphs" >B/WF1.Fc&#947;RIIA</text>
<text x="383.7" y="593.6" font-size="7" text-anchor="start" font-weight="normal" fill="#1a1a1a" textLength="13.5" lengthAdjust="spacingAndGlyphs" >TGN</text>
<rect x="0" y="0" width="520" height="1.5" fill="#000"/>
<rect x="0" y="0" width="1.75" height="612" fill="#000"/>
<rect x="518.25" y="0" width="1.75" height="612" fill="#000"/>
<rect x="0" y="609.75" width="520" height="2.25" fill="#000"/>
</svg>
</body></html>
